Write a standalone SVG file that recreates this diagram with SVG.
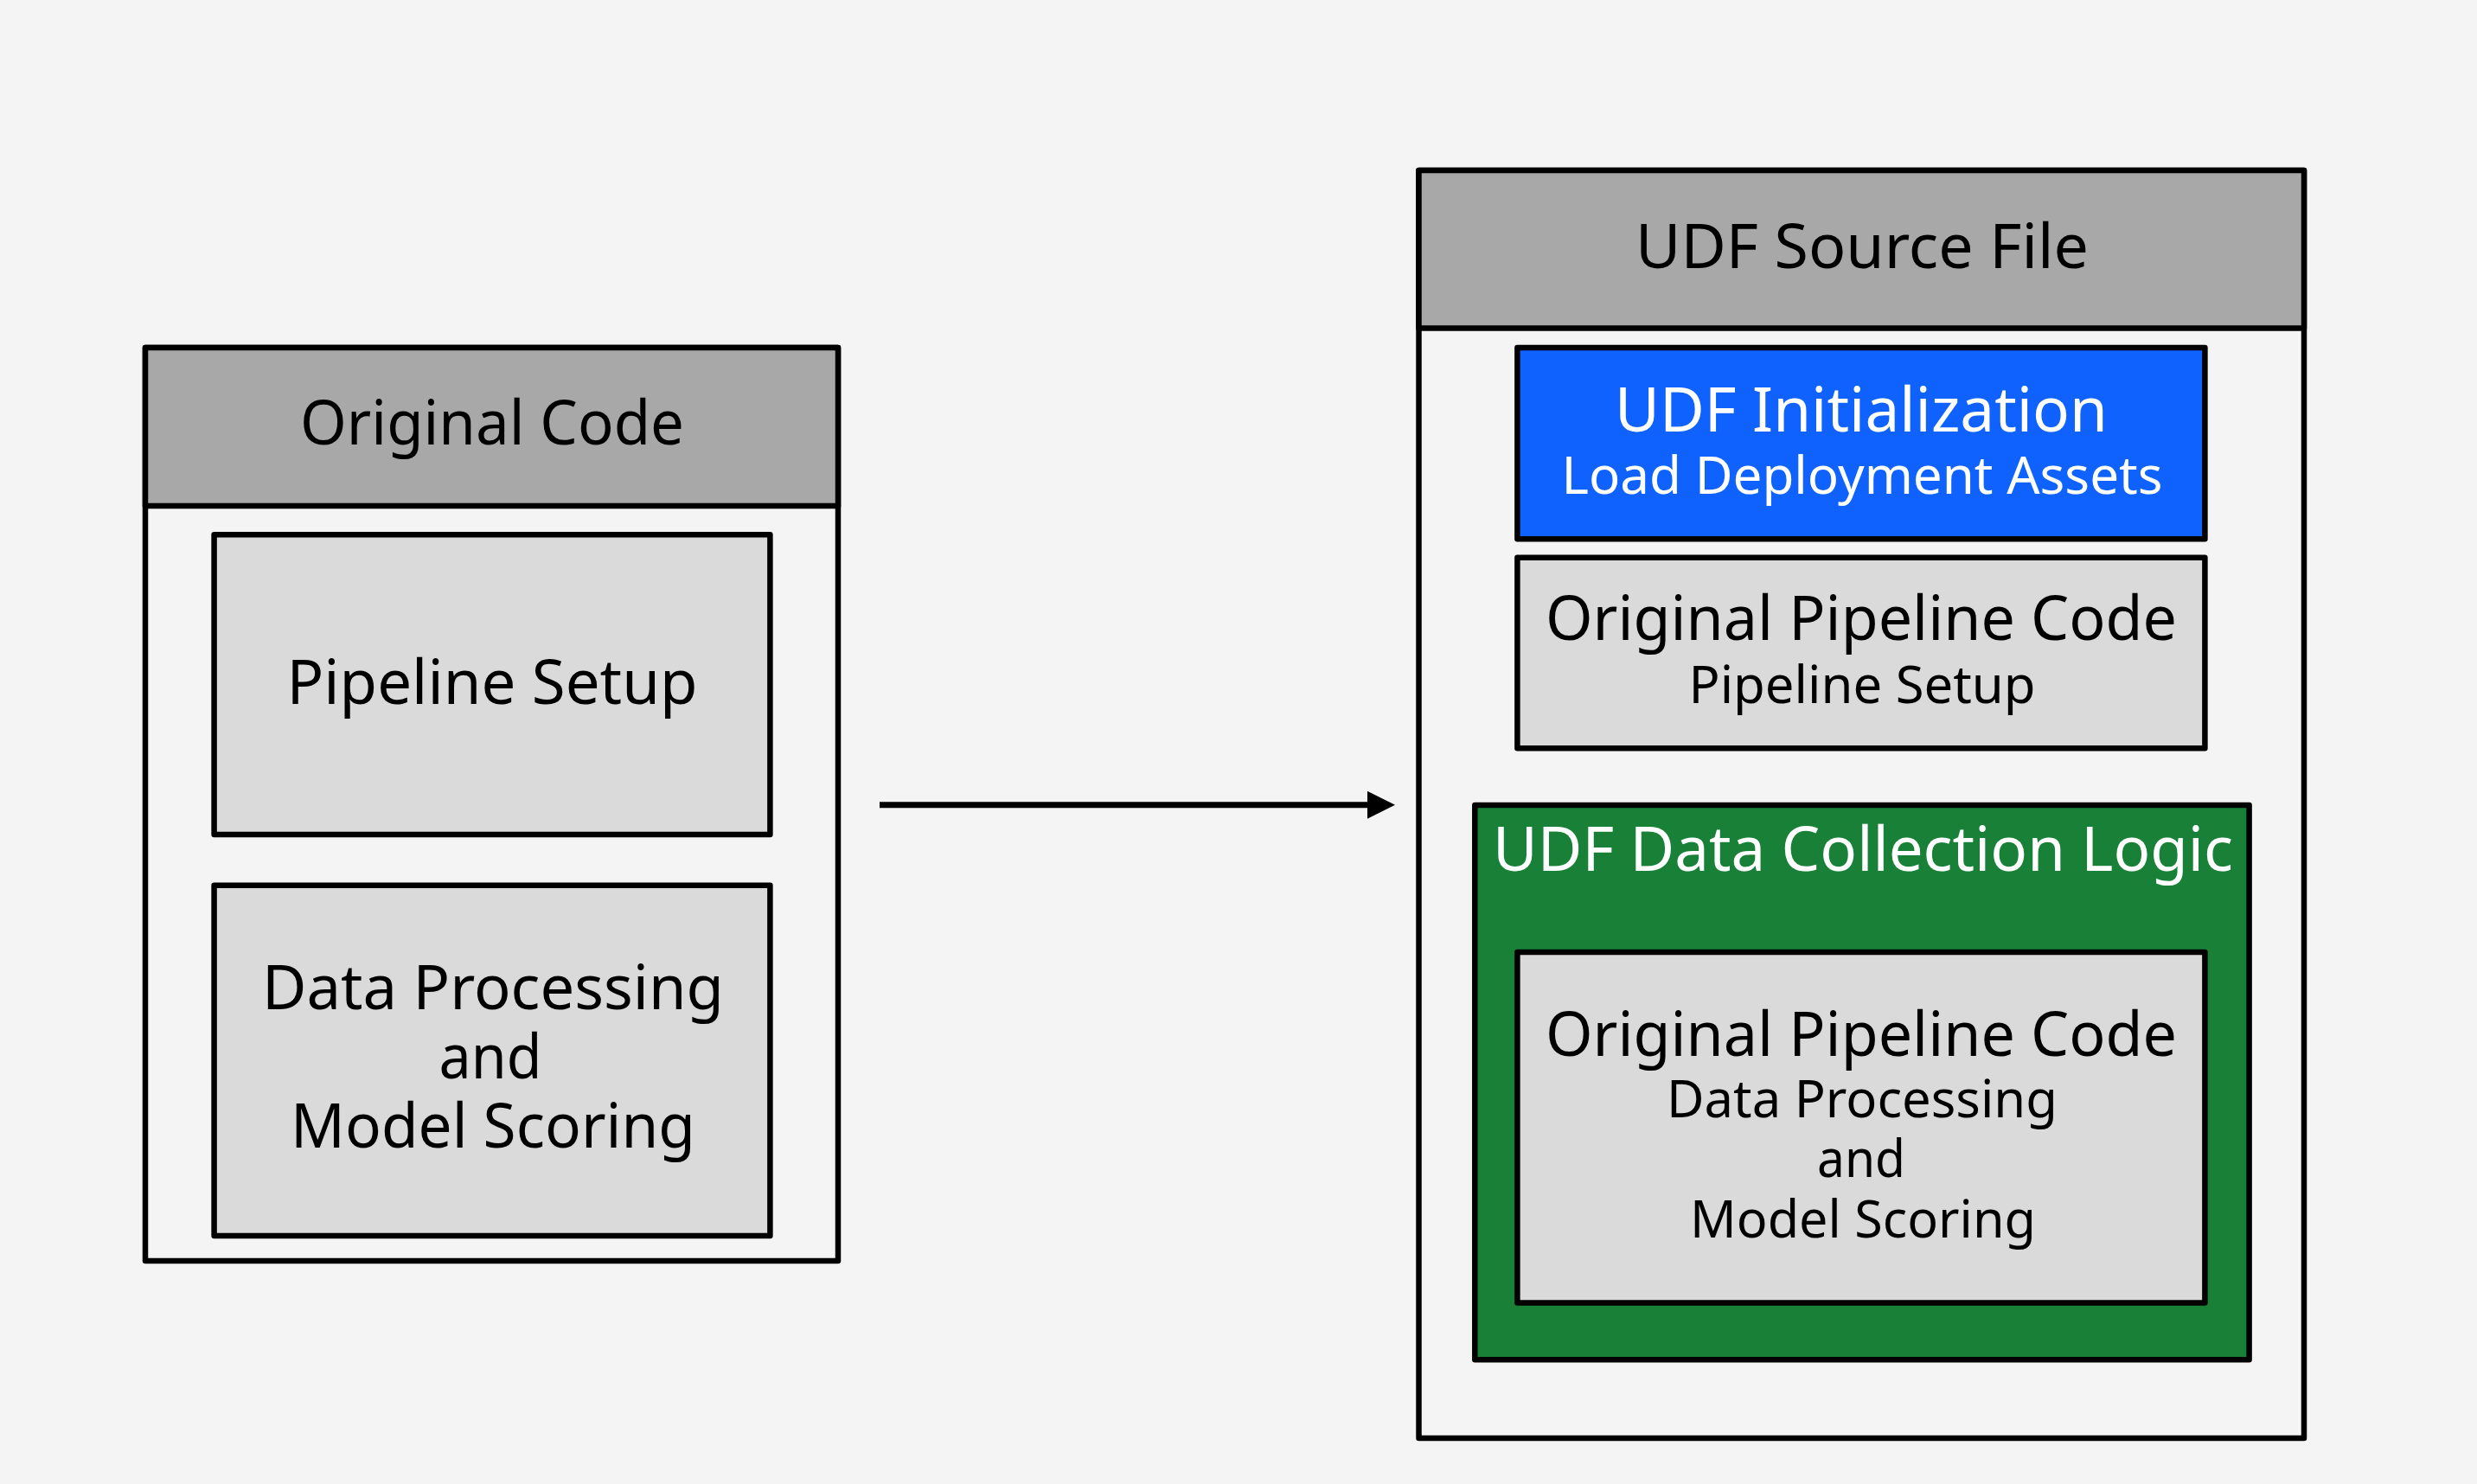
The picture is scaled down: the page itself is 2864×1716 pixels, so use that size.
<svg xmlns="http://www.w3.org/2000/svg" width="2864" height="1716" viewBox="0 0 2864 1716">
<style>
.box{stroke:#000;stroke-width:6.5;stroke-linejoin:round}
.hdr{fill:#a8a8a8}
.body{fill:#f4f4f4}
.gray{fill:#dadada}
.blue{fill:#0f62fe}
.green{fill:#198038}
text{font-family:"Noto Sans","Open Sans","DejaVu Sans",sans-serif;text-anchor:middle}
.lg{font-size:72px}
.sm{font-size:61px}
.dk{fill:#000}
.wt{fill:#fff}
</style>
<defs>
<marker id="ah" markerWidth="32" markerHeight="32" viewBox="0 0 32 32" refX="0" refY="16" orient="auto" markerUnits="userSpaceOnUse">
<path d="M0,0 L32,16 L0,32 Z" fill="#000"/>
</marker>
</defs>
<rect width="2864" height="1716" fill="#f4f4f4"/>

<g id="original-code">
<rect class="box body" x="168" y="402" width="801" height="1056"/>
<rect class="box hdr" x="168" y="402" width="801" height="183"/>
<text class="lg dk" x="569" y="514" textLength="444" lengthAdjust="spacingAndGlyphs">Original Code</text>
</g>
<g id="pipeline-setup">
<rect class="box gray" x="247.6" y="618.3" width="642.8" height="346.7"/>
<text class="lg dk" x="569" y="813.6" textLength="475" lengthAdjust="spacingAndGlyphs">Pipeline Setup</text>
</g>
<g id="data-processing">
<rect class="box gray" x="247.6" y="1023.7" width="642.8" height="405.3"/>
<text class="lg dk" x="570" y="1166.7" textLength="534" lengthAdjust="spacingAndGlyphs">Data Processing</text>
<text class="lg dk" x="567" y="1246.7" textLength="119" lengthAdjust="spacingAndGlyphs">and</text>
<text class="lg dk" x="570" y="1326.7" textLength="468" lengthAdjust="spacingAndGlyphs">Model Scoring</text>
</g>

<g id="udf-source-file">
<rect class="box body" x="1640.5" y="197" width="1023.5" height="1466"/>
<rect class="box hdr" x="1640.5" y="197" width="1023.5" height="182.6"/>
<text class="lg dk" x="2153" y="309.5" textLength="524" lengthAdjust="spacingAndGlyphs">UDF Source File</text>
</g>
<g id="udf-initialization">
<rect class="box blue" x="1754.4" y="401.9" width="795" height="221.4"/>
<text class="lg wt" x="2152" y="499" textLength="570" lengthAdjust="spacingAndGlyphs">UDF Initialization</text>
<text class="sm wt" x="2153" y="570.6" textLength="695" lengthAdjust="spacingAndGlyphs">Load Deployment Assets</text>
</g>
<g id="original-pipeline-setup">
<rect class="box gray" x="1754.4" y="644.7" width="795" height="220.6"/>
<text class="lg dk" x="2152" y="740.3" textLength="730" lengthAdjust="spacingAndGlyphs">Original Pipeline Code</text>
<text class="sm dk" x="2153" y="813" textLength="401" lengthAdjust="spacingAndGlyphs">Pipeline Setup</text>
</g>
<g id="udf-data-collection">
<rect class="box green" x="1705.3" y="931" width="895.3" height="641.3"/>
<text class="lg wt" x="2154" y="1006.5" textLength="856" lengthAdjust="spacingAndGlyphs">UDF Data Collection Logic</text>
</g>
<g id="original-pipeline-processing">
<rect class="box gray" x="1754.4" y="1101" width="795" height="405.5"/>
<text class="lg dk" x="2152" y="1220.8" textLength="730" lengthAdjust="spacingAndGlyphs">Original Pipeline Code</text>
<text class="sm dk" x="2153" y="1292" textLength="452" lengthAdjust="spacingAndGlyphs">Data Processing</text>
<text class="sm dk" x="2152" y="1361" textLength="102" lengthAdjust="spacingAndGlyphs">and</text>
<text class="sm dk" x="2154" y="1431" textLength="400" lengthAdjust="spacingAndGlyphs">Model Scoring</text>
</g>

<g id="connectors">
<line x1="1017" y1="930.8" x2="1581" y2="930.8" stroke="#000" stroke-width="7" marker-end="url(#ah)"/>
</g>
</svg>
